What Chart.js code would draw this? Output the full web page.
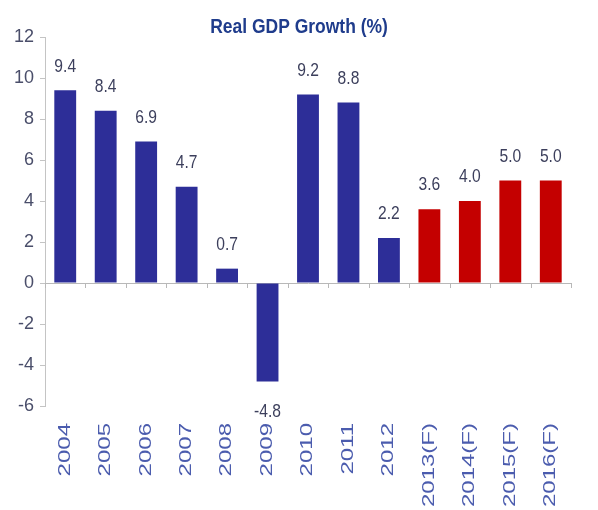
<!DOCTYPE html>
<html>
<head>
<meta charset="utf-8">
<script src="https://cdn.jsdelivr.net/npm/chart.js@4"></script>
<style>
  html, body { margin: 0; padding: 0; background: #fff; }
  #wrap { width: 598px; height: 510px; }
</style>
</head>
<body>
<div id="wrap"><canvas id="gdpChart"></canvas></div>
<script>
// GDP growth data
const years = ['2004', '2005', '2006', '2007', '2008', '2009', '2010', '2011', '2012',
    '2013(F)', '2014(F)', '2015(F)', '2016(F)'];
const growth = [9.4, 8.4, 6.9, 4.7, 0.7, -4.8, 9.2, 8.8, 2.2, 3.6, 4.0, 5.0, 5.0];
const isForecast = [false, false, false, false, false, false, false, false, false, true, true, true, true];
const yTicks = [-6, -4, -2, 0, 2, 4, 6, 8, 10, 12];

const BLUE = '#2D2E98';
const RED = '#C40000';
const FONT = '"Liberation Sans", Arial, sans-serif';

// value labels above / below bars (slightly tall, narrow text like the source)
const valueLabels = {
    id: 'valueLabels',
    afterDatasetsDraw(chart) {
        const ctx = chart.ctx;
        const meta = chart.getDatasetMeta(0);
        meta.data.forEach(function(bar, i) {
            const v = growth[i];
            const y = v >= 0 ? bar.y - 24 : bar.y + 30;
            ctx.save();
            ctx.translate(bar.x, y);
            ctx.scale(0.92, 1.12);
            ctx.font = '17px ' + FONT;
            ctx.fillStyle = '#3c3f5c';
            ctx.textAlign = 'center';
            ctx.textBaseline = 'middle';
            ctx.fillText(v.toFixed(1), 0, 0);
            ctx.restore();
        });
    }
};

// zero-line ticks, rotated category labels, title
const extras = {
    id: 'extras',
    afterDraw(chart) {
        const ctx = chart.ctx;
        const x = chart.scales.x;
        const y0 = chart.scales.y.getPixelForValue(0);
        ctx.save();
        ctx.strokeStyle = '#b8b8b8';
        ctx.lineWidth = 1;
        for (let i = 0; i <= years.length; i++) {
            const px = Math.round(x.getPixelForValue(i - 0.5)) + 0.5;
            ctx.beginPath();
            ctx.moveTo(px, y0);
            ctx.lineTo(px, y0 + 5);
            ctx.stroke();
        }
        ctx.restore();

        // category labels, stretched along the text like the source image
        const top = chart.chartArea.bottom + 17;
        years.forEach(function(label, i) {
            ctx.save();
            ctx.translate(x.getPixelForValue(i), top);
            ctx.rotate(-Math.PI / 2);
            ctx.scale(1.5, 1);
            ctx.font = '16px ' + FONT;
            ctx.fillStyle = '#4b5cae';
            ctx.textAlign = 'right';
            ctx.textBaseline = 'middle';
            ctx.fillText(label, 0, 0);
            ctx.restore();
        });

        ctx.save();
        ctx.translate(chart.width / 2, 27);
        ctx.scale(0.92, 1.1);
        ctx.font = 'bold 19px ' + FONT;
        ctx.fillStyle = '#1F3C8C';
        ctx.textAlign = 'center';
        ctx.textBaseline = 'middle';
        ctx.fillText('Real GDP Growth (%)', 0, 0);
        ctx.restore();
    }
};

new Chart(document.getElementById('gdpChart'), {
    type: 'bar',
    data: {
        labels: years,
        datasets: [{
            data: growth,
            backgroundColor: isForecast.map(f => f ? RED : BLUE),
            barPercentage: 0.54,
            categoryPercentage: 1.0
        }]
    },
    options: {
        responsive: true,
        maintainAspectRatio: false,
        animation: false,
        layout: {
            padding: { top: 37, right: 27, left: 0, bottom: 0 }
        },
        plugins: {
            legend: { display: false },
            tooltip: { enabled: false }
        },
        scales: {
            y: {
                min: -6,
                max: 12,
                afterBuildTicks: function(scale) {
                    scale.ticks = yTicks.map(v => ({ value: v }));
                },
                afterFit: function(scale) {
                    scale.width = 45;
                },
                grid: {
                    color: ctx => ctx.tick && ctx.tick.value === 0 ? '#b8b8b8' : 'rgba(0,0,0,0)',
                    tickColor: '#c4c4c4',
                    tickLength: 5,
                    drawTicks: true
                },
                border: {
                    display: true,
                    color: '#c4c4c4'
                },
                ticks: {
                    color: '#4a4e6a',
                    padding: 6,
                    font: {
                        family: FONT,
                        size: 18
                    }
                }
            },
            x: {
                afterFit: function(scale) {
                    scale.height = 104;
                },
                grid: {
                    display: false,
                    drawTicks: false
                },
                border: { display: false },
                ticks: {
                    display: false
                }
            }
        }
    },
    plugins: [valueLabels, extras]
});
</script>
</body>
</html>
